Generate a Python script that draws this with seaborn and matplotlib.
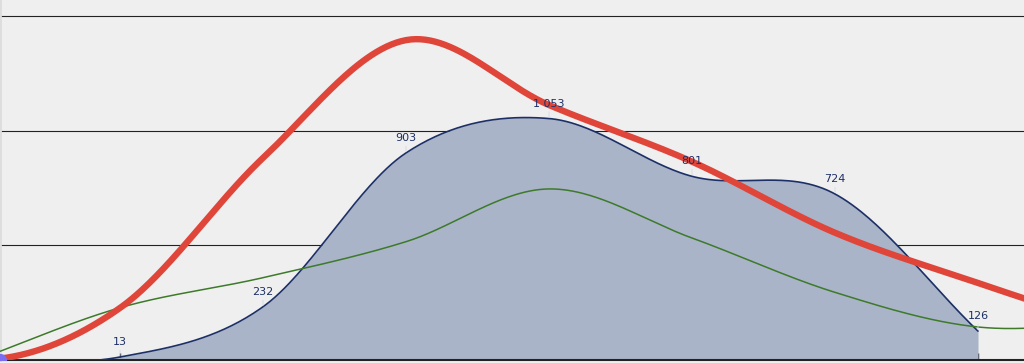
import numpy as np
import pandas as pd
import seaborn as sns
import matplotlib.pyplot as plt

# category positions (index); the lines run on past both edges
area_x = [-1, 0, 1, 2, 3, 4, 5, 6]
area_vals = [0, 13, 232, 903, 1053, 801, 724, 126]

line_x = [-1, 0, 1, 2, 3, 4, 5, 6, 7]
red_vals = [0, 227, 881, 1395, 1112, 865, 555, 336, 130]
green_vals = [0, 228, 359, 516, 746, 532, 295, 144, 166]

grid_vals = [500, 1000, 1500]


def smooth(xs, ys, flat_start=False, n=60):
    # catmull-rom spline through the points
    xs = np.asarray(xs, float)
    ys = np.asarray(ys, float)
    k = len(xs)
    m = np.zeros(k)
    m[0] = 0 if flat_start else ys[1] - ys[0]
    m[-1] = ys[-1] - ys[-2]
    m[1:-1] = (ys[2:] - ys[:-2]) / 2
    px, py = [], []
    for i in range(k - 1):
        t = np.linspace(0, 1, n)
        if i > 0:
            t = t[1:]
        h00 = 2 * t ** 3 - 3 * t ** 2 + 1
        h10 = t ** 3 - 2 * t ** 2 + t
        h01 = -2 * t ** 3 + 3 * t ** 2
        h11 = t ** 3 - t ** 2
        px.append(xs[i] + t * (xs[i + 1] - xs[i]))
        py.append(h00 * ys[i] + h10 * m[i] + h01 * ys[i + 1] + h11 * m[i + 1])
    return np.concatenate(px), np.concatenate(py)


sns.set_theme(style="white")
plt.rcParams['font.family'] = ['DejaVu Sans']

fig = plt.figure(figsize=(10.24, 3.63), dpi=100)
fig.patch.set_facecolor("#efefef")
ax = fig.add_axes([0, 3 / 363, 1, 360 / 363])
ax.set_facecolor("#efefef")

for g in grid_vals:
    ax.axhline(g, color="#222222", lw=0.8, zorder=1)

ax_x, ax_y = smooth(area_x, area_vals, flat_start=True)
ax_y = np.clip(ax_y, 0, None)
ax.fill_between(ax_x, 0, ax_y, color="#a9b4c8", zorder=2, lw=0)
area_df = pd.DataFrame({"x": ax_x, "y": ax_y})
sns.lineplot(data=area_df, x="x", y="y", ax=ax, color="#1c2f66", lw=1.2, zorder=3, sort=False)

gx, gy = smooth(line_x, green_vals)
sns.lineplot(data=pd.DataFrame({"x": gx, "y": gy}), x="x", y="y", ax=ax,
             color="#3d7a2a", lw=1.1, zorder=4, sort=False)

rx, ry = smooth(line_x, red_vals, flat_start=True)
sns.lineplot(data=pd.DataFrame({"x": rx, "y": ry}), x="x", y="y", ax=ax,
             color="#e0453a", lw=4.6, zorder=5, sort=False, solid_capstyle="round")

ax.scatter([-0.84], [0], s=90, color="#7b6cf0", zorder=6, clip_on=True, lw=0)

for x, v in zip(area_x[1:], area_vals[1:]):
    ax.annotate(f"{v:,}".replace(",", " "), (x, v), xytext=(0, 10),
                textcoords="offset pixels", ha="center", va="bottom",
                fontsize=8, color="#1c2f66", zorder=7,
                arrowprops=dict(arrowstyle="-", color="#d4d8e0", lw=0.6,
                                shrinkA=0, shrinkB=1))

ax.set_xlim(-120 / 143, 904 / 143)
ax.set_ylim(0, 1570)
ax.set_xticks(range(0, 7))
ax.set_xticklabels([])
ax.set_yticks([])
ax.set_xlabel("")
ax.set_ylabel("")
ax.tick_params(axis="x", direction="in", length=5, width=1, color="#222222", bottom=True)
for s in ["top", "right"]:
    ax.spines[s].set_visible(False)
ax.spines["left"].set_color("#dddddd")
ax.spines["left"].set_linewidth(2)
ax.spines["bottom"].set_color("#222222")
ax.spines["bottom"].set_linewidth(1.5)

fig.savefig("out.png", dpi=100, facecolor=fig.get_facecolor())
